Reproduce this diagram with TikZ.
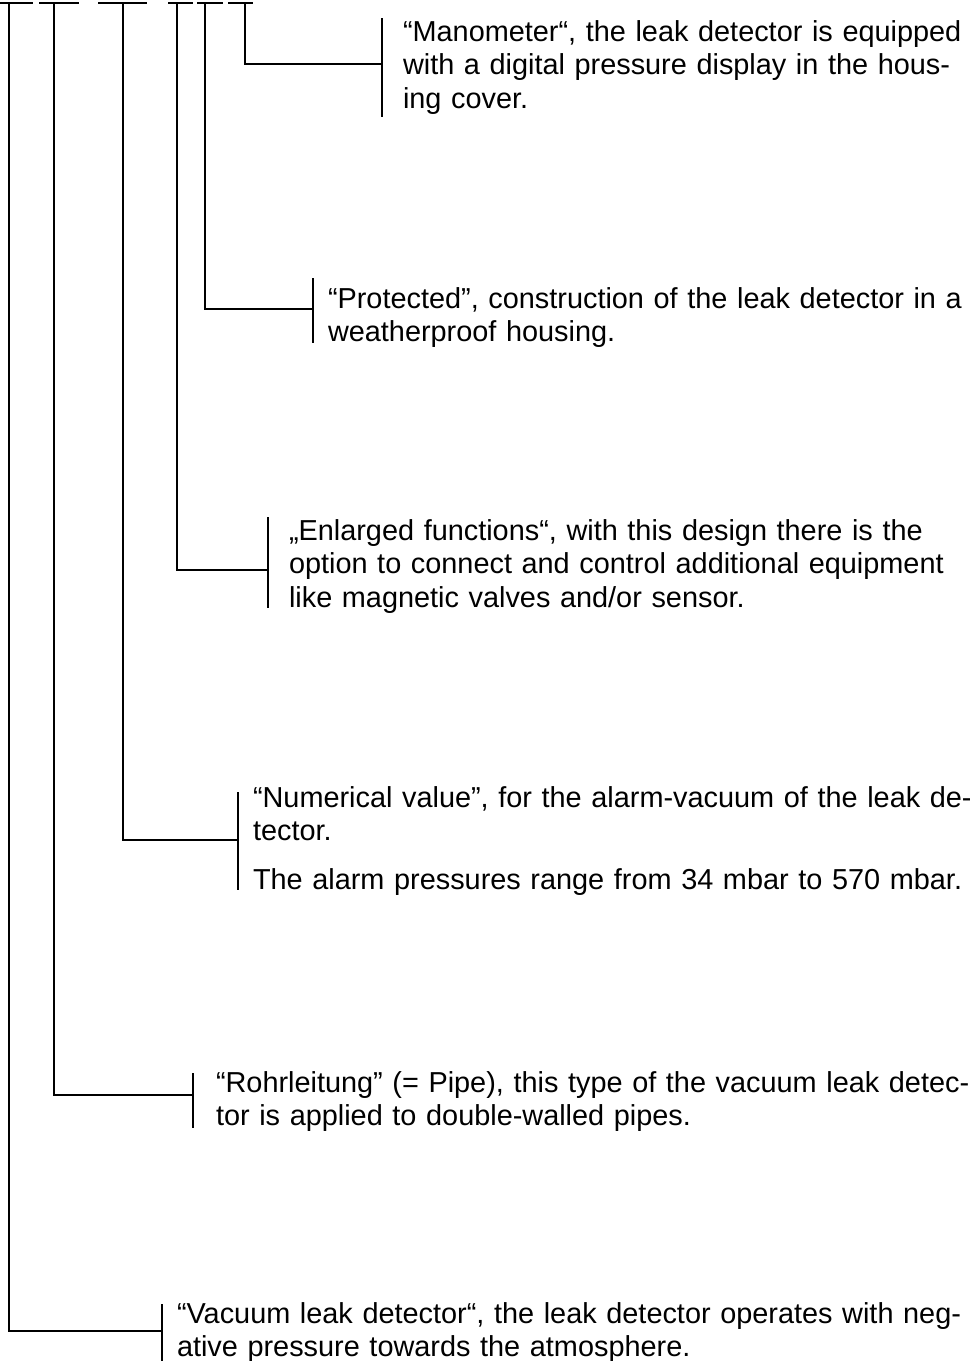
\documentclass[tikz,border=0pt]{standalone}
\usepackage{fontspec}
\setmainfont{Liberation Sans}
\begin{document}
\begin{tikzpicture}[x=0.75pt,y=-0.75pt,line width=0.95pt,
  txt/.style={anchor=base west,inner sep=0pt,outer sep=0pt,align=left,
    text width=600pt,font=\fontsize{21.65pt}{25.3pt}\selectfont}]
\useasboundingbox (0,0) rectangle (970,1361);
% top bars
\draw (0,3) -- (33,3);
\draw (39,3) -- (79,3);
\draw (98,3) -- (147,3);
\draw (168,3) -- (193,3);
\draw (197,3) -- (223,3);
\draw (228,3) -- (253,3);
\coordinate (t1) at (9,3);
\coordinate (t2) at (54,3);
\coordinate (t3) at (123,3);
\coordinate (t4) at (177,3);
\coordinate (t5) at (205,3);
\coordinate (t6) at (245,3);
% brackets
\coordinate (m6) at (382,64);
\coordinate (m5) at (313,309);
\coordinate (m4) at (268,570);
\coordinate (m3) at (238,840);
\coordinate (m2) at (193,1095);
\coordinate (m1) at (162,1331);
\draw (382,18) -- (382,117);
\draw (313,278) -- (313,343);
\draw (268,517) -- (268,608);
\draw (238,792) -- (238,890);
\draw (193,1073) -- (193,1128);
\draw (162,1304) -- (162,1361);
% connectors
\draw (t6) |- (m6);
\draw (t5) |- (m5);
\draw (t4) |- (m4);
\draw (t3) |- (m3);
\draw (t2) |- (m2);
\draw (t1) |- (m1);
% texts
\node[txt] (n6) at (403,41)
 {\makebox[420pt][s]{“Manometer“, the leak detector is equipped}\\
  \makebox[420pt][s]{with a digital pressure display in the hous-}\\
  ing cover.};
\node[txt] (n5) at (328,308)
 {\makebox[476pt][s]{“Protected”, construction of the leak detector in a}\\
  weatherproof housing.};
\node[txt] (n4) at (289,540)
 {„Enlarged functions“, with this design there is the\\
  option to connect and control additional equipment\\
  like magnetic valves and/or sensor.};
\node[txt] (n3) at (253,807)
 {\makebox[532pt][s]{“Numerical value”, for the alarm-vacuum of the leak de-}\\
  tector.\\[10.9pt]
  The alarm pressures range from 34 mbar to 570 mbar.};
\node[txt] (n2) at (216,1092)
 {\makebox[560pt][s]{“Rohrleitung” (= Pipe), this type of the vacuum leak detec-}\\
  tor is applied to double-walled pipes.};
\node[txt] (n1) at (177,1323)
 {\makebox[589pt][s]{“Vacuum leak detector“, the leak detector operates with neg-}\\
  ative pressure towards the atmosphere.};
\end{tikzpicture}
\end{document}
